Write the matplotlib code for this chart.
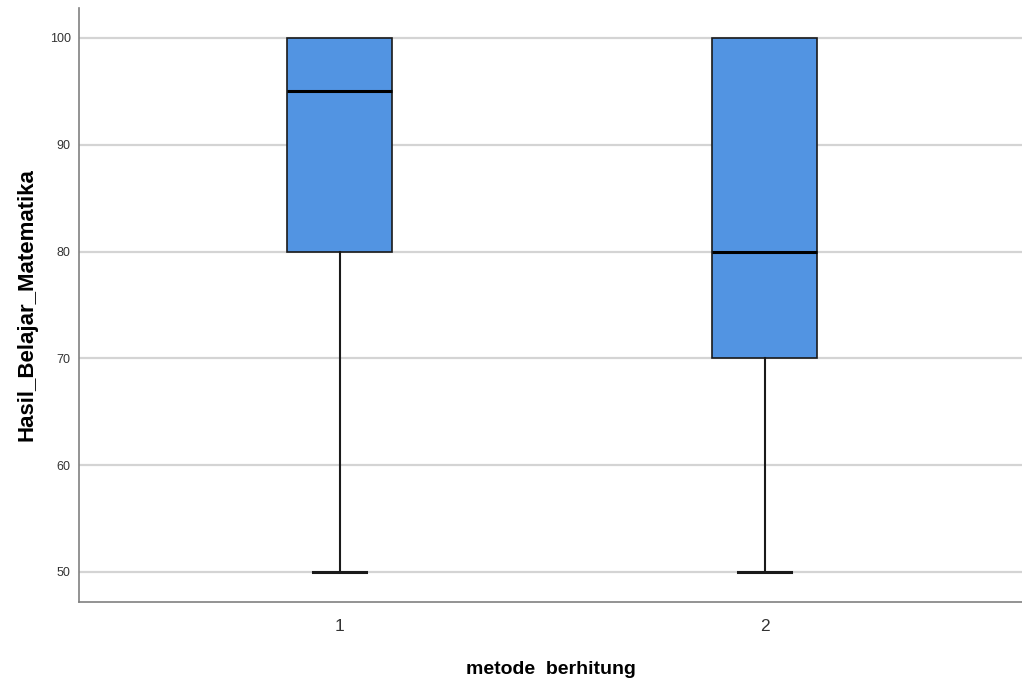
import matplotlib
matplotlib.use("Agg")
import matplotlib.pyplot as plt

# data
groups = ["1", "2"]
q1 = [80, 70]
median = [95, 80]
q3 = [100, 100]
whisker_low = [50, 50]
whisker_high = [100, 100]

plt.rcParams["font.family"] = ["Liberation Sans", "DejaVu Sans"]

fig = plt.figure(figsize=(10.22, 6.83), dpi=100)
ax = fig.add_axes([79 / 1022, 81 / 683, 943 / 1022, 594 / 683])

stats = []
for i, g in enumerate(groups):
    stats.append(dict(label=g, q1=q1[i], med=median[i], q3=q3[i],
                      whislo=whisker_low[i], whishi=whisker_high[i], fliers=[]))

positions = [1, 2]
bp = ax.bxp(stats, positions=positions, widths=0.247, capwidths=0.125,
            patch_artist=True, showfliers=False,
            boxprops=dict(facecolor="#5294E2", edgecolor="#1a1a1a", linewidth=1.2),
            medianprops=dict(color="black", linewidth=2.2),
            whiskerprops=dict(color="#1a1a1a", linewidth=1.5),
            capprops=dict(color="#1a1a1a", linewidth=2.2),
            zorder=3)

# upper whisker sits on the box edge -> no cap drawn there
for i in range(len(groups)):
    if whisker_high[i] == q3[i]:
        bp["caps"][2 * i + 1].set_visible(False)

ax.set_xlim(0.386, 2.605)
ax.set_ylim(47.19, 102.8)
ax.set_yticks([50, 60, 70, 80, 90, 100])
ax.yaxis.grid(True, color="#d4d4d4", linewidth=1.6, zorder=0)
ax.set_axisbelow(True)

for side in ["top", "right"]:
    ax.spines[side].set_visible(False)
for side in ["left", "bottom"]:
    ax.spines[side].set_color("#808080")
    ax.spines[side].set_linewidth(1.2)

ax.tick_params(axis="both", length=0)
ax.tick_params(axis="y", labelsize=9, colors="#333333", pad=6)
ax.tick_params(axis="x", labelsize=12.5, colors="#333333", pad=12)

ax.set_ylabel("Hasil_Belajar_Matematika", fontsize=16, fontweight="bold", labelpad=9)
ax.set_xlabel("metode  berhitung", fontsize=14, fontweight="bold", labelpad=20)

fig.savefig("out.png", dpi=100)
